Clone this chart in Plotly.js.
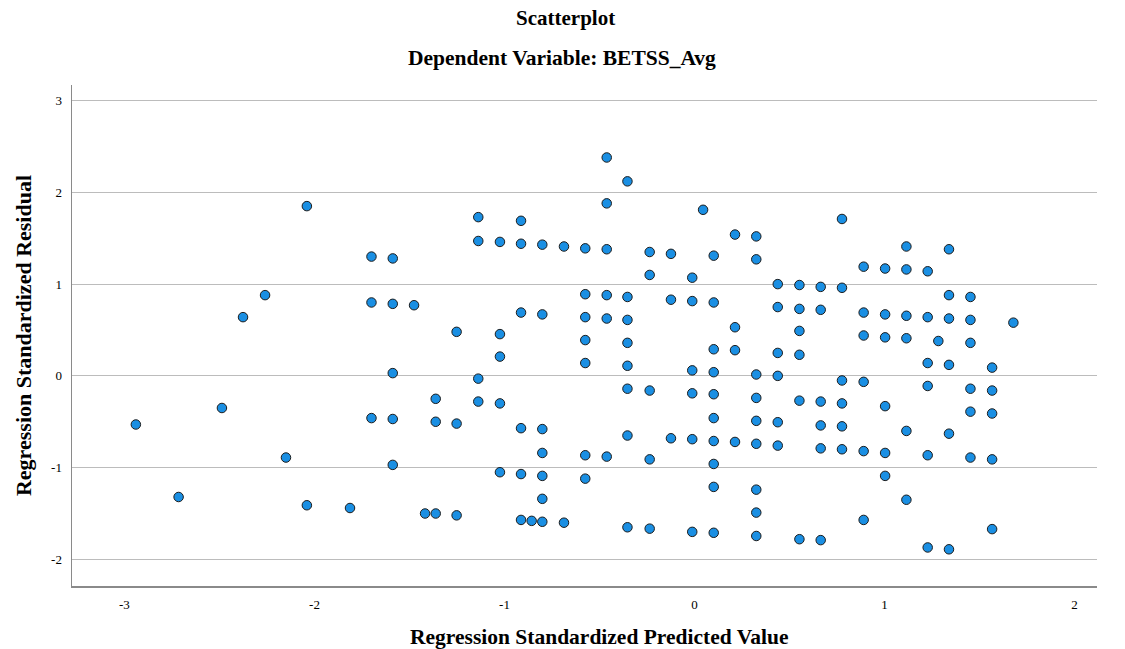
<!DOCTYPE html>
<html>
<head>
<meta charset="utf-8">
<script src="https://cdn.plot.ly/plotly-3.0.1.min.js"></script>
<style>html,body{margin:0;padding:0;background:#fff;}#chart{width:1125px;height:649px;}</style>
</head>
<body>
<div id="chart"></div>
<script>
// Regression standardized predicted values (x) and residuals (y)
var predicted = [
  -2.94,
  -2.715,
  -2.487,
  -2.376,
  -2.26,
  -2.15,
  -2.04, -2.04,
  -1.813,
  -1.70, -1.70, -1.70,
  -1.588, -1.588, -1.588, -1.588, -1.588,
  -1.476,
  -1.418,
  -1.362, -1.362, -1.362,
  -1.252, -1.252, -1.252,
  -1.138, -1.138, -1.138, -1.138,
  -1.024, -1.024, -1.024, -1.024, -1.024,
  -0.913, -0.913, -0.913, -0.913, -0.913, -0.913,
  -0.857,
  -0.801, -0.801, -0.801, -0.801, -0.801, -0.801, -0.801,
  -0.687, -0.687,
  -0.575, -0.575, -0.575, -0.575, -0.575, -0.575, -0.575,
  -0.462, -0.462, -0.462, -0.462, -0.462, -0.462,
  -0.353, -0.353, -0.353, -0.353, -0.353, -0.353, -0.353, -0.353,
  -0.236, -0.236, -0.236, -0.236, -0.236,
  -0.124, -0.124, -0.124,
  -0.012, -0.012, -0.012, -0.012, -0.012, -0.012,
  0.045,
  0.101, 0.101, 0.101, 0.101, 0.101, 0.101, 0.101, 0.101, 0.101, 0.101,
  0.213, 0.213, 0.213, 0.213,
  0.325, 0.325, 0.325, 0.325, 0.325, 0.325, 0.325, 0.325, 0.325,
  0.438, 0.438, 0.438, 0.438, 0.438, 0.438,
  0.552, 0.552, 0.552, 0.552, 0.552, 0.552,
  0.664, 0.664, 0.664, 0.664, 0.664, 0.664,
  0.776, 0.776, 0.776, 0.776, 0.776, 0.776,
  0.89, 0.89, 0.89, 0.89, 0.89, 0.89,
  1.003, 1.003, 1.003, 1.003, 1.003, 1.003,
  1.115, 1.115, 1.115, 1.115, 1.115, 1.115,
  1.227, 1.227, 1.227, 1.227, 1.227, 1.227,
  1.283,
  1.339, 1.339, 1.339, 1.339, 1.339, 1.339,
  1.452, 1.452, 1.452, 1.452, 1.452, 1.452,
  1.566, 1.566, 1.566, 1.566, 1.566,
  1.678
];
var residual = [
  -0.53,
  -1.32,
  -0.35,
  0.64,
  0.88,
  -0.89,
  1.85, -1.41,
  -1.44,
  1.30, 0.80, -0.46,
  1.28, 0.785, 0.03, -0.47, -0.97,
  0.77,
  -1.50,
  -0.25, -0.50, -1.50,
  0.48, -0.52, -1.52,
  1.73, 1.47, -0.03, -0.28,
  1.46, 0.455, 0.21, -0.30, -1.05,
  1.69, 1.44, 0.69, -0.57, -1.07, -1.57,
  -1.58,
  1.43, 0.67, -0.58, -0.84, -1.09, -1.34, -1.59,
  1.41, -1.60,
  1.39, 0.89, 0.64, 0.39, 0.14, -0.865, -1.12,
  2.38, 1.88, 1.38, 0.88, 0.625, -0.88,
  2.12, 0.86, 0.61, 0.36, 0.11, -0.14, -0.65, -1.65,
  1.35, 1.10, -0.16, -0.91, -1.665,
  1.33, 0.83, -0.68,
  1.07, 0.815, 0.06, -0.19, -0.69, -1.70,
  1.81,
  1.31, 0.80, 0.29, 0.04, -0.20, -0.46, -0.71, -0.96, -1.21, -1.71,
  1.54, 0.53, 0.28, -0.72,
  1.52, 1.27, 0.015, -0.24, -0.49, -0.74, -1.24, -1.49, -1.745,
  1.00, 0.75, 0.25, 0.00, -0.505, -0.76,
  0.99, 0.73, 0.49, 0.23, -0.27, -1.78,
  0.97, 0.72, -0.28, -0.54, -0.79, -1.79,
  1.71, 0.96, -0.05, -0.30, -0.55, -0.80,
  1.19, 0.69, 0.44, -0.065, -0.82, -1.57,
  1.17, 0.67, 0.42, -0.33, -0.84, -1.09,
  1.41, 1.16, 0.655, 0.41, -0.60, -1.35,
  1.14, 0.64, 0.14, -0.11, -0.865, -1.87,
  0.38,
  1.38, 0.88, 0.625, 0.12, -0.63, -1.89,
  0.86, 0.61, 0.36, -0.14, -0.39, -0.89,
  0.09, -0.16, -0.41, -0.91, -1.67,
  0.58
];
var xTicks = [-3, -2, -1, 0, 1, 2];
var yTicks = [-2, -1, 0, 1, 2, 3];
var chartTitle = 'Scatterplot';
var chartSubtitle = 'Dependent Variable: BETSS_Avg';
var xTitle = 'Regression Standardized Predicted Value';
var yTitle = 'Regression Standardized Residual';

var serif = '"Liberation Serif", "Times New Roman", Times, serif';

var trace = {
  type: 'scatter',
  mode: 'markers',
  x: predicted,
  y: residual,
  marker: {
    size: 9.5,
    color: '#1a8fe3',
    line: {color: '#1c1c1c', width: 1}
  },
  hoverinfo: 'x+y'
};

var layout = {
  width: 1125,
  height: 649,
  margin: {l: 72, r: 28, t: 85, b: 63},
  paper_bgcolor: '#ffffff',
  plot_bgcolor: '#ffffff',
  showlegend: false,
  font: {family: serif, color: '#000000', size: 13},
  xaxis: {
    range: [-3.276, 2.118],
    tickvals: xTicks,
    ticktext: xTicks.map(String),
    showgrid: false,
    zeroline: false,
    showline: true,
    linecolor: '#8a8a8a',
    linewidth: 1.5,
    ticks: '',
    ticklabelstandoff: 6,
    tickfont: {family: serif, size: 13, color: '#000'},
    automargin: false
  },
  yaxis: {
    range: [-2.29, 3.17],
    tickvals: yTicks,
    ticktext: yTicks.map(String),
    showgrid: true,
    gridcolor: '#bcbcbc',
    gridwidth: 1,
    zeroline: false,
    showline: true,
    linecolor: '#8a8a8a',
    linewidth: 1.5,
    ticks: '',
    ticklabelstandoff: 6,
    tickfont: {family: serif, size: 13, color: '#000'},
    title: {text: '<b>' + yTitle + '</b>', font: {family: serif, size: 22, color: '#000'}, standoff: 13},
    automargin: false
  },
  annotations: [
    {
      text: '<b>' + chartTitle + '</b>',
      xref: 'paper', yref: 'paper',
      x: 0.481, y: (586 - 18) / 501,
      xanchor: 'center', yanchor: 'middle',
      showarrow: false,
      font: {family: serif, size: 21, color: '#000'}
    },
    {
      text: '<b>' + chartSubtitle + '</b>',
      xref: 'paper', yref: 'paper',
      x: 0.478, y: (586 - 58) / 501,
      xanchor: 'center', yanchor: 'middle',
      showarrow: false,
      font: {family: serif, size: 21.5, color: '#000'}
    },
    {
      text: '<b>' + xTitle + '</b>',
      xref: 'paper', yref: 'paper',
      x: (599 - 72) / 1025, y: (586 - 637) / 501,
      xanchor: 'center', yanchor: 'middle',
      showarrow: false,
      font: {family: serif, size: 21.5, color: '#000'}
    }
  ]
};

Plotly.newPlot('chart', [trace], layout, {displayModeBar: false, staticPlot: true});
</script>
</body>
</html>
